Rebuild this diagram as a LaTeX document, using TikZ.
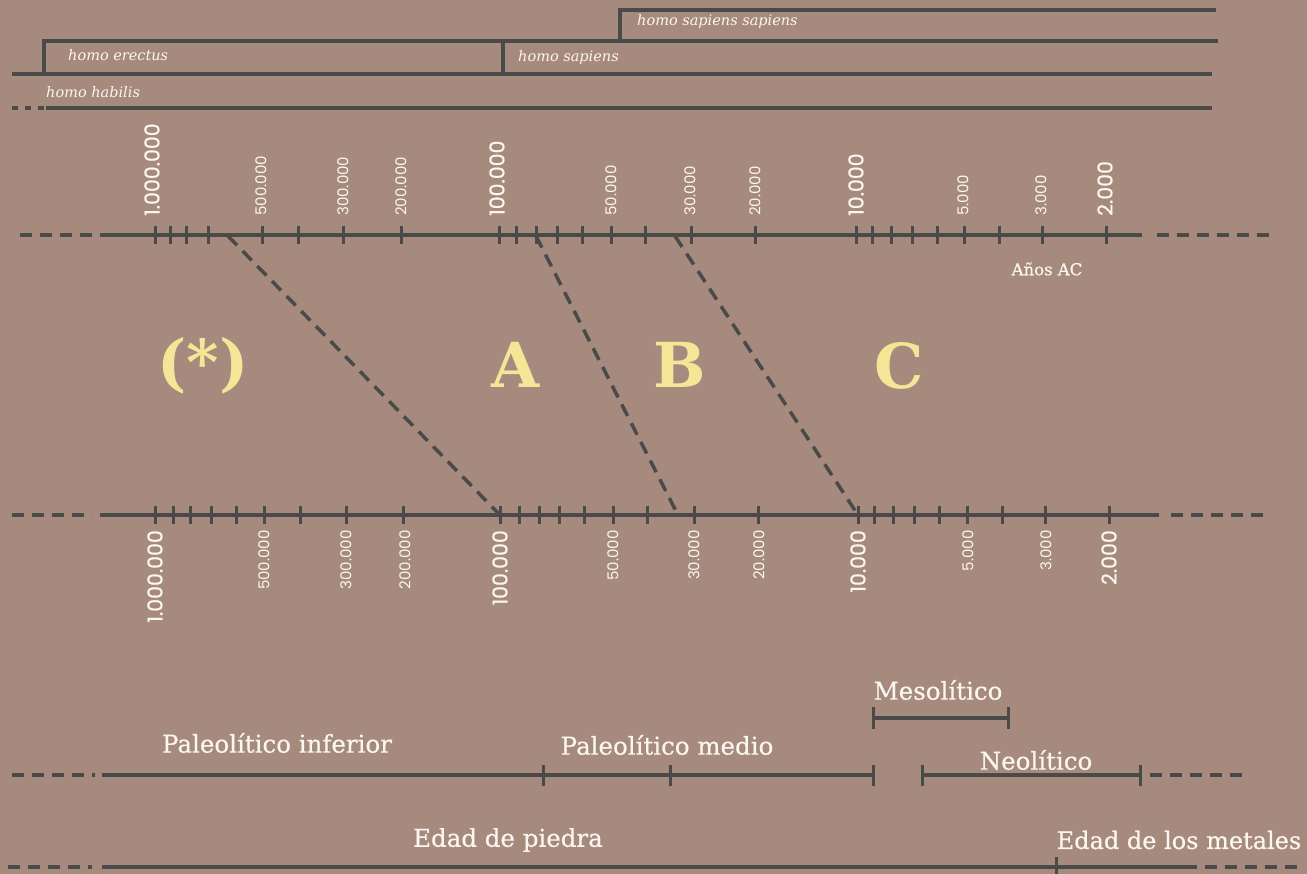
\documentclass[tikz,border=0pt]{standalone}
\usepackage{fontspec}
\setmainfont{DejaVu Serif}
\newfontfamily\lblfont{DejaVu Serif}[FakeBold=0.5]
\newfontfamily\numfont{Poppins}
\newfontfamily\numfontb{Poppins}[FakeBold=0.8]
\definecolor{bg}{HTML}{A68A7E}
\definecolor{ink}{HTML}{4A4A48}
\definecolor{paper}{HTML}{FBF6EE}
\definecolor{gold}{HTML}{F4E597}
\begin{document}
\begin{tikzpicture}[x=1pt,y=-1pt,
  hline/.style={ink, line width=4pt},
  axisline/.style={ink, line width=4pt},
  tickmark/.style={ink, line width=3pt},
  dashseg/.style={ink, line width=4pt, dash pattern=on 12pt off 8pt},
  diag/.style={ink, line width=3.5pt, dash pattern=on 13pt off 8pt},
  periodline/.style={ink, line width=3.5pt},
  numbig/.style={text=paper, font=\numfontb\fontsize{20.5}{21}\selectfont, inner sep=0pt, rotate=90},
  numsmall/.style={text=paper, font=\numfont\fontsize{15}{16}\selectfont, inner sep=0pt, rotate=90},
  species/.style={text=paper, font=\itshape\fontsize{14.5}{16}\selectfont, inner sep=0pt, anchor=west},
  period/.style={text=paper, font=\lblfont\fontsize{24.5}{28}\selectfont, inner sep=0pt},
  letter/.style={text=gold, font=\bfseries\fontsize{62}{62}\selectfont, inner sep=0pt}
]
% background and page size
\fill[bg] (0,0) rectangle (1307,874);
\useasboundingbox (0,0) rectangle (1307,874);

% species ranges
\draw[hline] (620,41) -- (620,10) -- (1216,10);
\draw[hline] (503,74) -- (503,41) -- (1218,41);
\draw[hline] (44,74) -- (44,41) -- (503,41);
\draw[hline] (12,74) -- (1212,74);
\draw[ink, line width=4pt, dash pattern=on 6pt off 7pt] (12,108) -- (46,108);
\draw[hline] (46,108) -- (1212,108);
\node[species] (hss) at (637,22) {homo sapiens sapiens};
\node[species] (her) at (68,55) {homo erectus};
\node[species] (hsa) at (518,58) {homo sapiens};
\node[species] (hha) at (46,92) {homo habilis};

% upper time axis
\draw[dashseg] (20,235) -- (100,235);
\draw[axisline] (100,235) -- (1142,235);
\draw[dashseg] (1157,235) -- (1272,235);
\foreach \x in {155,170,186,208,262,298,343,401,499,516,536,557,582,611,645,691,755,856,872,891,912,937,964,999,1042,1106}
  \draw[tickmark] (\x,226) -- (\x,244);
\node[numbig, anchor=west] (u1m) at (152,216) {1.000.000};
\node[numsmall, anchor=west] (u500k) at (261,216) {500.000};
\node[numsmall, anchor=west] (u300k) at (343,216) {300.000};
\node[numsmall, anchor=west] (u200k) at (401,216) {200.000};
\node[numbig, anchor=west] (u100k) at (497,216) {100.000};
\node[numsmall, anchor=west] (u50k) at (611,216) {50.000};
\node[numsmall, anchor=west] (u30k) at (690,216) {30.000};
\node[numsmall, anchor=west] (u20k) at (755,216) {20.000};
\node[numbig, anchor=west] (u10k) at (856,216) {10.000};
\node[numsmall, anchor=west] (u5k) at (963,216) {5.000};
\node[numsmall, anchor=west] (u3k) at (1041,216) {3.000};
\node[numbig, anchor=west] (u2k) at (1105,216) {2.000};
\node[text=paper, font=\lblfont\fontsize{16.5}{18}\selectfont, inner sep=0pt] (anos) at (1047,269) {Años AC};

% lower time axis
\draw[dashseg] (12,515) -- (92,515);
\draw[axisline] (100,515) -- (1159,515);
\draw[dashseg] (1171,515) -- (1266,515);
\foreach \x in {155,173,190,211,236,264,300,346,403,500,519,539,559,584,613,647,694,758,858,874,893,914,939,967,1002,1045,1109}
  \draw[tickmark] (\x,506) -- (\x,524);
\node[numbig, anchor=east] (l1m) at (155,530) {1.000.000};
\node[numsmall, anchor=east] (l500k) at (264,530) {500.000};
\node[numsmall, anchor=east] (l300k) at (346,530) {300.000};
\node[numsmall, anchor=east] (l200k) at (405,530) {200.000};
\node[numbig, anchor=east] (l100k) at (500,530) {100.000};
\node[numsmall, anchor=east] (l50k) at (613,530) {50.000};
\node[numsmall, anchor=east] (l30k) at (694,530) {30.000};
\node[numsmall, anchor=east] (l20k) at (759,530) {20.000};
\node[numbig, anchor=east] (l10k) at (858,530) {10.000};
\node[numsmall, anchor=east] (l5k) at (968,530) {5.000};
\node[numsmall, anchor=east] (l3k) at (1046,530) {3.000};
\node[numbig, anchor=east] (l2k) at (1109,530) {2.000};

% links between the two scales
\coordinate (ta) at (228,236);
\coordinate (ba) at (500,515);
\coordinate (tb) at (536,236);
\coordinate (bb) at (678,515);
\coordinate (tc) at (675,236);
\coordinate (bc) at (858,515);
\draw[diag] (ta) -- (ba);
\draw[diag] (tb) -- (bb);
\draw[diag] (tc) -- (bc);

% zone letters
\node[letter] (zs) at (203,366) {(*)};
\node[letter] (za) at (516,365) {A};
\node[letter] (zb) at (680,365) {B};
\node[letter] (zc) at (899,366) {C};

% periods
\draw[dashseg] (12,775) -- (95,775);
\draw[periodline] (102,775) -- (873,775);
\foreach \x in {543,670,873}
  \draw[tickmark] (\x,765) -- (\x,786);
\draw[periodline] (922,775) -- (1140,775);
\foreach \x in {922,1140}
  \draw[tickmark] (\x,765) -- (\x,786);
\draw[dashseg] (1150,775) -- (1245,775);
\draw[periodline] (873,718) -- (1008,718);
\foreach \x in {873,1008}
  \draw[tickmark] (\x,707) -- (\x,729);
\node[period] (pinf) at (277,743) {Paleolítico inferior};
\node[period] (pmed) at (667,745) {Paleolítico medio};
\node[period] (meso) at (938,690) {Mesolítico};
\node[period] (neo) at (1036,760) {Neolítico};

% ages
\draw[dashseg] (8,867) -- (92,867);
\draw[periodline] (102,867) -- (1197,867);
\draw[tickmark] (1056,857) -- (1056,878);
\draw[dashseg] (1205,867) -- (1300,867);
\node[period] (piedra) at (508,840) {Edad de piedra};
\node[period, font=\lblfont\fontsize{24}{28}\selectfont] (metal) at (1179,840) {Edad de los metales};
\end{tikzpicture}
\end{document}
